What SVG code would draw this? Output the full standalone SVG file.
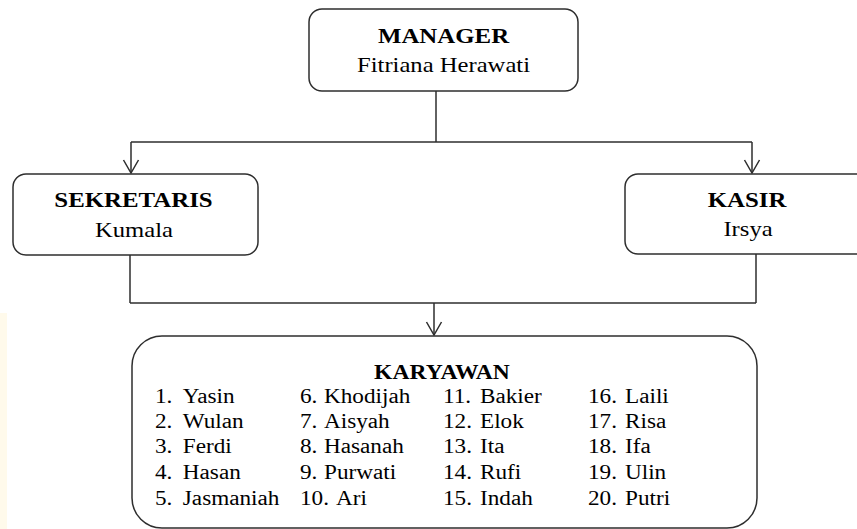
<svg xmlns="http://www.w3.org/2000/svg" width="857" height="529" viewBox="0 0 857 529">
  <style>
    .box { fill: #ffffff; stroke: #2e2e2e; stroke-width: 1.5; }
    .line { fill: none; stroke: #2e2e2e; stroke-width: 1.5; }
    text { font-family: 'Liberation Serif', 'DejaVu Serif', 'Times New Roman', Times, serif; fill: #000; }
    .hd { font-size: 22px; font-weight: bold; text-anchor: middle; }
    .nm { font-size: 22px; text-anchor: middle; }
    .kh { font-size: 20.5px; font-weight: bold; text-anchor: middle; }
    .li { font-size: 20px; }
  </style>
  <defs>
    <marker id="arrow" markerUnits="userSpaceOnUse" markerWidth="20" markerHeight="20" viewBox="-15 -10 20 20" refX="0" refY="0" orient="auto" overflow="visible">
      <path d="M-13,-7.5 L0,0 L-13,7.5" fill="none" stroke="#2e2e2e" stroke-width="1.5"/>
    </marker>
  </defs>
  <rect width="857" height="529" fill="#ffffff"/>
  <rect x="0" y="313" width="7" height="216" fill="#fffaeb"/>

  <g id="connectors">
    <path class="line" d="M436,91 V142"/>
    <path class="line" d="M131,142 H752"/>
    <path class="line" d="M131,142 V173" marker-end="url(#arrow)"/>
    <path class="line" d="M752,142 V173" marker-end="url(#arrow)"/>
    <path class="line" d="M130,255 V303"/>
    <path class="line" d="M756,254 V303"/>
    <path class="line" d="M130,303 H756"/>
    <path class="line" d="M434,303 V335" marker-end="url(#arrow)"/>
  </g>

  <g id="manager">
    <rect class="box" x="309" y="9" width="269" height="82" rx="13"/>
    <text class="hd" font-family="Liberation Serif, serif" transform="translate(443.5 43) scale(1.13 1)">MANAGER</text>
    <text class="nm" transform="translate(443.5 72) scale(1.12 1)">Fitriana Herawati</text>
  </g>

  <g id="sekretaris">
    <rect class="box" x="13" y="174" width="245" height="81" rx="13"/>
    <text class="hd" transform="translate(133.5 207) scale(1.13 1)">SEKRETARIS</text>
    <text class="nm" transform="translate(134 237) scale(1.12 1)">Kumala</text>
  </g>

  <g id="kasir">
    <rect class="box" x="625" y="174" width="250" height="80" rx="13"/>
    <text class="hd" transform="translate(747 207) scale(1.13 1)">KASIR</text>
    <text class="nm" transform="translate(748 236) scale(1.12 1)">Irsya</text>
  </g>

  <g id="karyawan">
    <rect class="box" x="132" y="336" width="625" height="192" rx="30"/>
    <text class="kh" transform="translate(442 379) scale(1.15 1)">KARYAWAN</text>

    <text class="li" transform="translate(155 403) scale(1.16 1)">1.<tspan x="24">Yasin</tspan></text>
    <text class="li" transform="translate(155 428) scale(1.16 1)">2.<tspan x="24">Wulan</tspan></text>
    <text class="li" transform="translate(155 453) scale(1.16 1)">3.<tspan x="24">Ferdi</tspan></text>
    <text class="li" transform="translate(155 479) scale(1.16 1)">4.<tspan x="24">Hasan</tspan></text>
    <text class="li" transform="translate(155 505) scale(1.16 1)">5.<tspan x="24">Jasmaniah</tspan></text>

    <text class="li" transform="translate(300 403) scale(1.16 1)">6.<tspan x="20.7">Khodijah</tspan></text>
    <text class="li" transform="translate(300 428) scale(1.16 1)">7.<tspan x="20.7">Aisyah</tspan></text>
    <text class="li" transform="translate(300 453) scale(1.16 1)">8.<tspan x="20.7">Hasanah</tspan></text>
    <text class="li" transform="translate(300 479) scale(1.16 1)">9.<tspan x="20.7">Purwati</tspan></text>
    <text class="li" transform="translate(300 505) scale(1.16 1)">10.<tspan x="31">Ari</tspan></text>

    <text class="li" transform="translate(443 403) scale(1.16 1)">11.<tspan x="31.9">Bakier</tspan></text>
    <text class="li" transform="translate(443 428) scale(1.16 1)">12.<tspan x="31.9">Elok</tspan></text>
    <text class="li" transform="translate(443 453) scale(1.16 1)">13.<tspan x="31.9">Ita</tspan></text>
    <text class="li" transform="translate(443 479) scale(1.16 1)">14.<tspan x="31.9">Rufi</tspan></text>
    <text class="li" transform="translate(443 505) scale(1.16 1)">15.<tspan x="31.9">Indah</tspan></text>

    <text class="li" transform="translate(588 403) scale(1.16 1)">16.<tspan x="31.9">Laili</tspan></text>
    <text class="li" transform="translate(588 428) scale(1.16 1)">17.<tspan x="31.9">Risa</tspan></text>
    <text class="li" transform="translate(588 453) scale(1.16 1)">18.<tspan x="31.9">Ifa</tspan></text>
    <text class="li" transform="translate(588 479) scale(1.16 1)">19.<tspan x="31.9">Ulin</tspan></text>
    <text class="li" transform="translate(588 505) scale(1.16 1)">20.<tspan x="31.9">Putri</tspan></text>
  </g>
</svg>
